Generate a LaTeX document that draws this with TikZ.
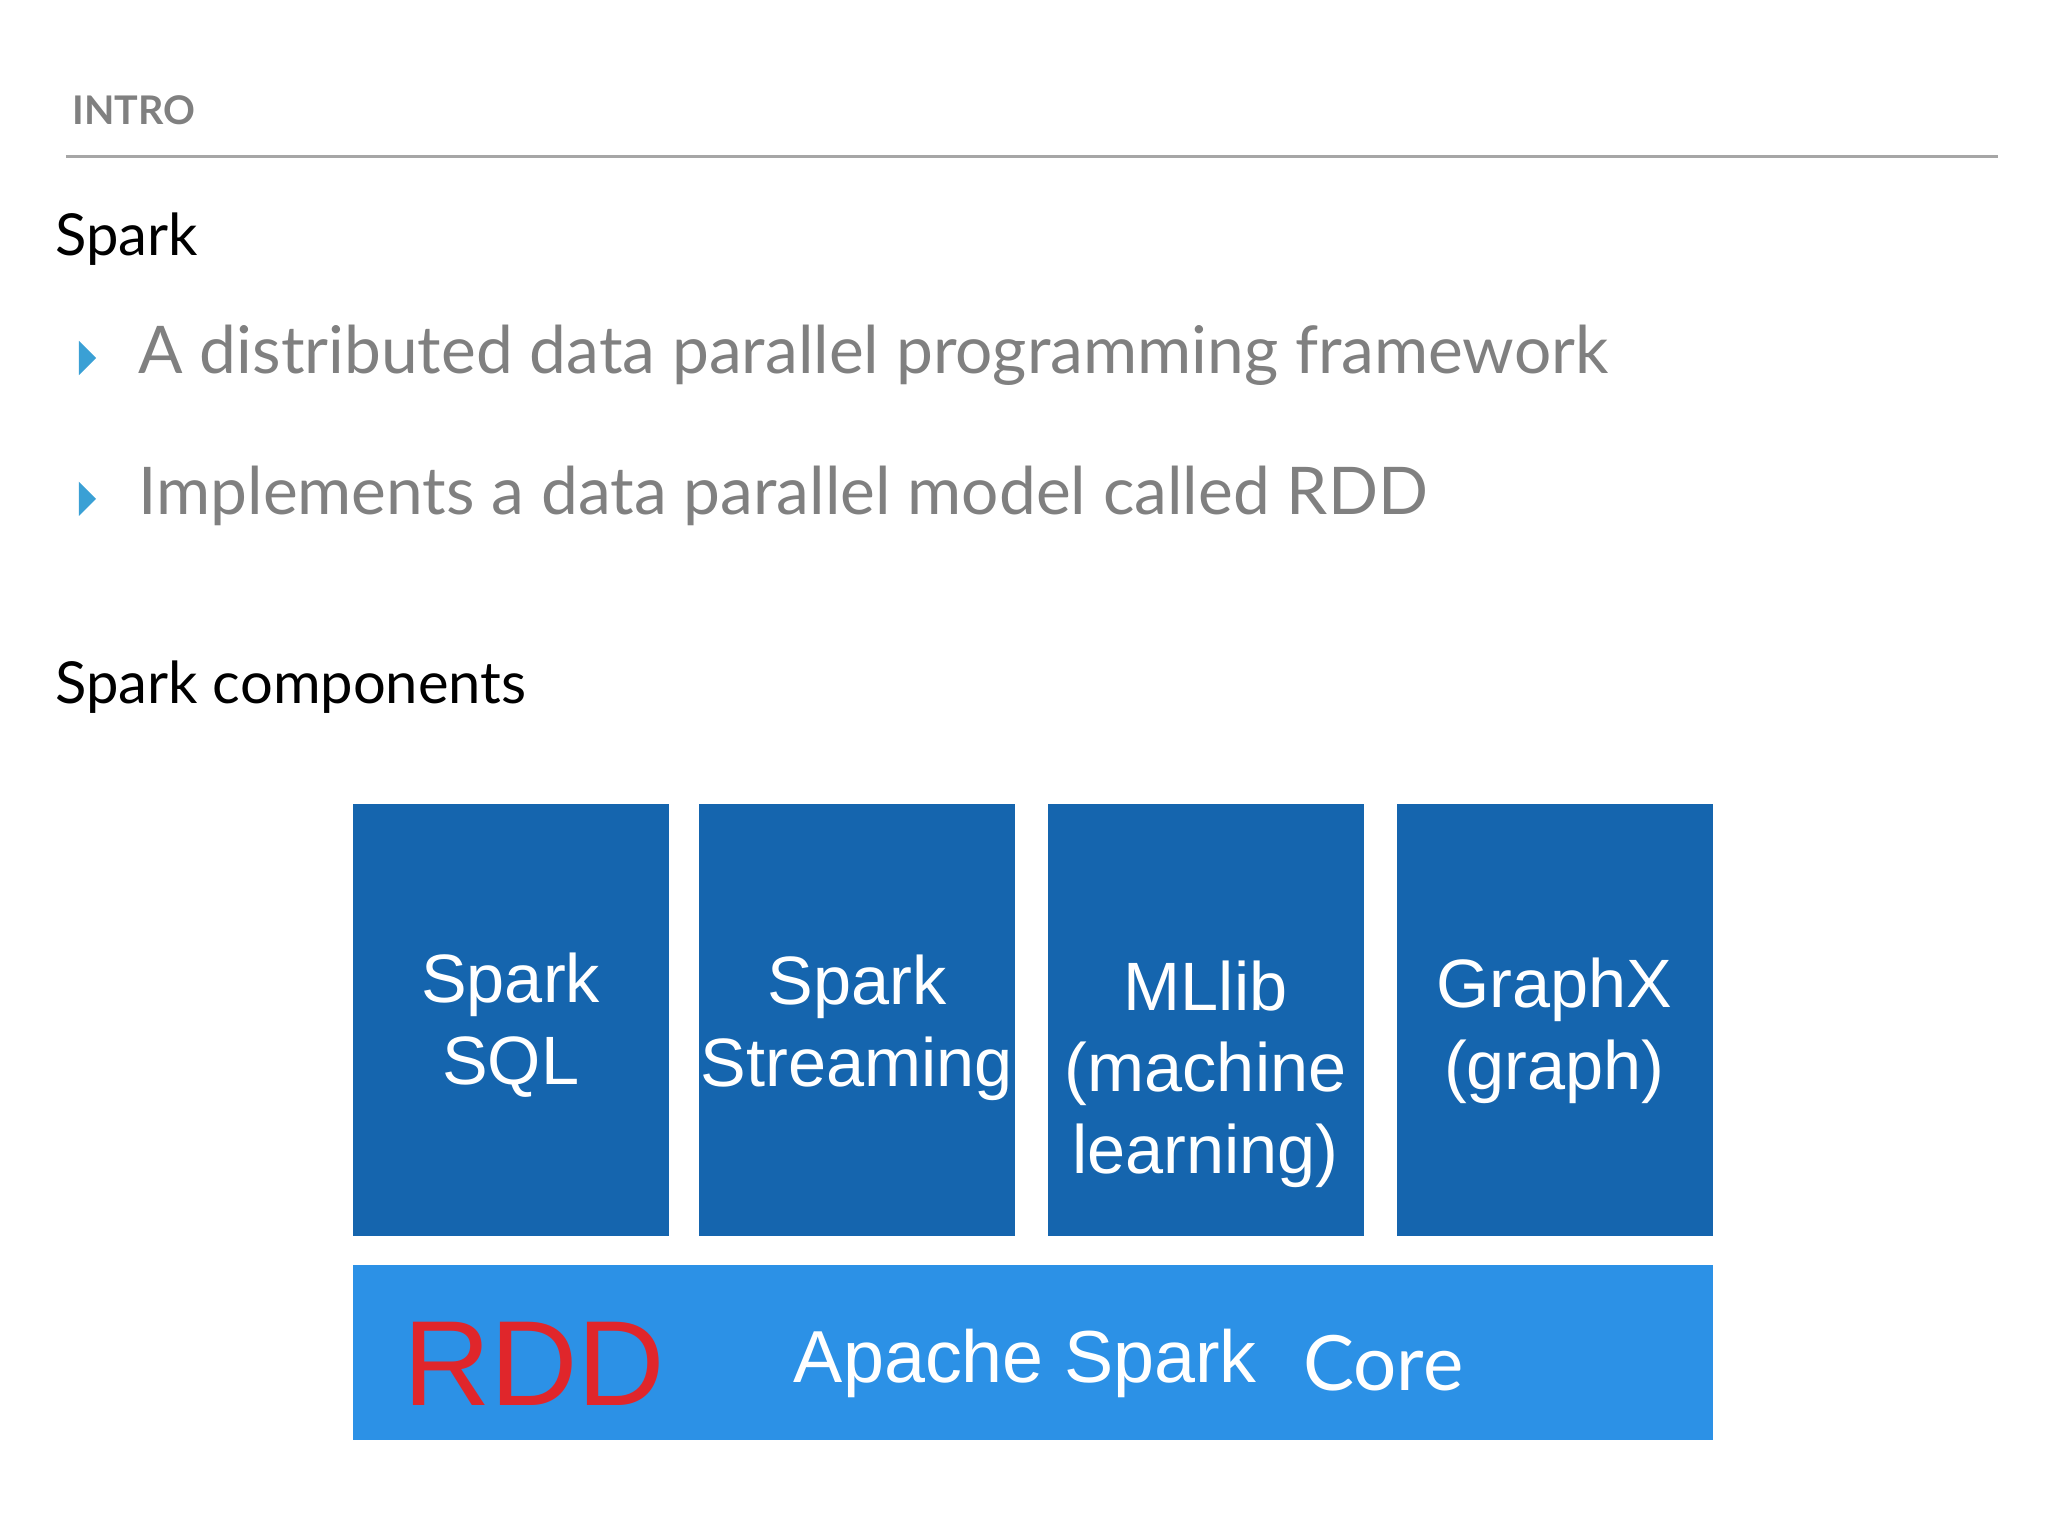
\documentclass[tikz,border=0pt]{standalone}
\usepackage{fontspec}
\setmainfont{Lato}
\newfontfamily\arialf{Liberation Sans}
\definecolor{boxblue}{HTML}{1565AE}
\definecolor{corebl}{HTML}{2C91E6}
\definecolor{bulb}{HTML}{3AA0D5}
\definecolor{txtgray}{HTML}{808080}
\definecolor{rddred}{HTML}{E0262B}
\begin{document}
\begin{tikzpicture}[x=1pt,y=-1pt,
  comp/.style={fill=boxblue,draw=none,minimum width=240pt,minimum height=328pt,anchor=north west,inner sep=0pt},
  ctxt/.style={text=white,font=\arialf\fontsize{52}{62}\selectfont,align=center,inner sep=0pt},
  bul/.style={fill=bulb,draw=none},
  btxt/.style={anchor=west,text=txtgray,font=\fontsize{50}{58}\selectfont,inner sep=0pt},
  head/.style={anchor=west,font=\fontsize{44}{52}\selectfont,inner sep=0pt}]
\useasboundingbox (0,0) rectangle (1556,1167);
\node[anchor=west,text=txtgray,font=\fontsize{30}{36}\selectfont\bfseries,inner sep=0pt] (intro) at (55,84) {INTRO};
\coordinate (l1) at (50,119); \coordinate (l2) at (1518,119);
\draw[line width=2.5pt,color=black!35] (l1) -- (l2);
\node[head] (spark) at (42,182) {Spark};
\fill[bul] (60,259) -- (73,272) -- (60,285) -- cycle;
\node[btxt] (b1) at (105,270) {A distributed data parallel programming framework};
\fill[bul] (60,366) -- (73,379) -- (60,392) -- cycle;
\node[btxt] (b2) at (105,377) {Implements a data parallel model called RDD};
\node[head] (comps) at (42,522) {Spark components};
\node[comp] (sql) at (268,611) {};
\node[ctxt] (sqlt) at (388,779) {Spark\\SQL};
\node[comp] (str) at (531,611) {};
\node[ctxt] (strt) at (651,781) {Spark\\Streaming};
\node[comp] (ml) at (796,611) {};
\node[ctxt] (mlt) at (916,816) {MLlib\\(machine\\learning)};
\node[comp] (gx) at (1061,611) {};
\node[ctxt] (gxt) at (1181,783) {GraphX\\(graph)};
\node[fill=corebl,minimum width=1033pt,minimum height=133pt,anchor=north west,inner sep=0pt] (core) at (268,961) {};
\node[anchor=west,text=rddred,font=\arialf\fontsize{92}{100}\selectfont,inner sep=0pt] (rdd) at (306,1036) {RDD};
\node[anchor=west,text=white,font=\arialf\fontsize{56}{66}\selectfont,inner sep=0pt] (ap) at (603,1036) {Apache Spark};
\node[anchor=west,text=white,font=\fontsize{58}{66}\selectfont,inner sep=0pt] (co) at (990,1036) {Core};
\end{tikzpicture}
\end{document}
